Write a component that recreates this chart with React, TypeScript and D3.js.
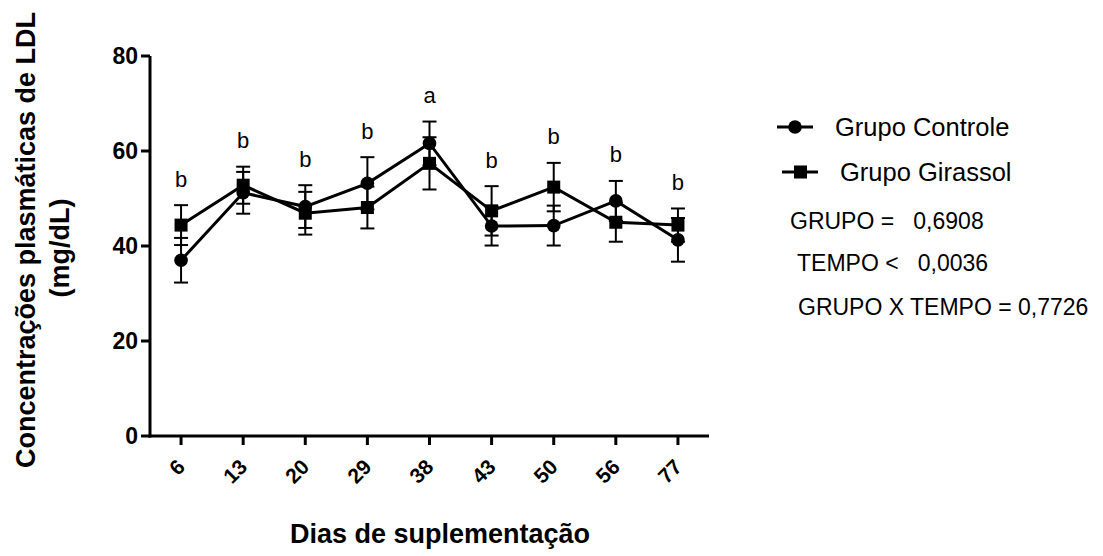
import React from 'react';
import * as d3 from 'd3';

// Dias de suplementação
const days = ['6', '13', '20', '29', '38', '43', '50', '56', '77'];

// Grupo Controle (circle) mean and SEM
const controleMean = [37.0, 51.2, 48.3, 53.2, 61.6, 44.2, 44.3, 49.5, 41.3];
const controleSem = [4.7, 4.4, 4.5, 5.5, 4.6, 4.1, 4.2, 4.2, 4.6];

// Grupo Girassol (square) mean and SEM
const girassolMean = [44.4, 52.8, 46.9, 48.1, 57.4, 47.4, 52.4, 45.0, 44.4];
const girassolSem = [4.2, 3.9, 4.5, 4.4, 5.5, 5.2, 5.1, 4.1, 3.5];

// significance letters over each day
const letters = ['b', 'b', 'b', 'b', 'a', 'b', 'b', 'b', 'b'];

const yTicks = [0, 20, 40, 60, 80];

const statLines = ['GRUPO =   0,6908', 'TEMPO <   0,0036', 'GRUPO X TEMPO = 0,7726'];
const statX = [790, 797, 798];
const statY = [221, 263, 307];

const W = 1103;
const H = 556;
const FONT = '"Liberation Sans", Arial, sans-serif';

const App = () => {
  const x = d3.scalePoint<string>().domain(days).range([150, 709]).padding(0.5);
  const y = d3.scaleLinear().domain([0, 80]).range([436, 56]);

  const line = d3
    .line<number>()
    .x((_, i) => x(days[i]) as number)
    .y((d) => y(d));

  const errBars = (mean: number[], sem: number[], key: string) =>
    mean.map((m, i) => {
      const cx = x(days[i]) as number;
      const top = y(m + sem[i]);
      const bot = y(m - sem[i]);
      return (
        <g key={key + i} stroke="#000" strokeWidth={2}>
          <line x1={cx} x2={cx} y1={top} y2={bot} />
          <line x1={cx - 7} x2={cx + 7} y1={top} y2={top} />
          <line x1={cx - 7} x2={cx + 7} y1={bot} y2={bot} />
        </g>
      );
    });

  return (
    <svg
      width={W}
      height={H}
      style={{ position: 'absolute', left: 0, top: 0, background: '#fff' }}
      fontFamily={FONT}
    >
      {/* y axis */}
      <line x1={150} x2={150} y1={y(80)} y2={y(0) + 1.5} stroke="#000" strokeWidth={3} />
      {yTicks.map((t) => (
        <g key={t}>
          <line x1={141} x2={150} y1={y(t)} y2={y(t)} stroke="#000" strokeWidth={3} />
          <text
            x={138}
            y={y(t)}
            textAnchor="end"
            dominantBaseline="central"
            fontSize={23}
            fontWeight="bold"
          >
            {t}
          </text>
        </g>
      ))}

      {/* x axis */}
      <line x1={148.5} x2={709} y1={y(0)} y2={y(0)} stroke="#000" strokeWidth={3} />
      {days.map((d) => {
        const cx = x(d) as number;
        return (
          <g key={d}>
            <line x1={cx} x2={cx} y1={y(0)} y2={y(0) + 9} stroke="#000" strokeWidth={3} />
            <text
              transform={`translate(${cx},${y(0) + 27}) rotate(-45)`}
              textAnchor="end"
              dominantBaseline="central"
              fontSize={21}
              fontWeight="bold"
            >
              {d}
            </text>
          </g>
        );
      })}

      {/* error bars */}
      {errBars(controleMean, controleSem, 'c')}
      {errBars(girassolMean, girassolSem, 'g')}

      {/* lines */}
      <path d={line(controleMean) ?? ''} fill="none" stroke="#000" strokeWidth={3} />
      <path d={line(girassolMean) ?? ''} fill="none" stroke="#000" strokeWidth={3} />

      {/* markers */}
      {controleMean.map((m, i) => (
        <circle key={'cm' + i} cx={x(days[i]) as number} cy={y(m)} r={6.8} fill="#000" />
      ))}
      {girassolMean.map((m, i) => (
        <rect
          key={'gm' + i}
          x={(x(days[i]) as number) - 6.5}
          y={y(m) - 6.5}
          width={13}
          height={13}
          fill="#000"
        />
      ))}

      {/* significance letters */}
      {letters.map((l, i) => {
        const top = Math.max(controleMean[i] + controleSem[i], girassolMean[i] + girassolSem[i]);
        return (
          <text
            key={'l' + i}
            x={x(days[i]) as number}
            y={y(top + 5.5)}
            textAnchor="middle"
            dominantBaseline="central"
            fontSize={22}
          >
            {l}
          </text>
        );
      })}

      {/* axis titles */}
      <text transform="translate(35,240) rotate(-90)" textAnchor="middle" fontSize={27} fontWeight="bold">
        Concentrações plasmáticas de LDL
      </text>
      <text transform="translate(69,248) rotate(-90)" textAnchor="middle" fontSize={27} fontWeight="bold">
        (mg/dL)
      </text>
      <text x={440} y={543} textAnchor="middle" fontSize={27} fontWeight="bold">
        Dias de suplementação
      </text>

      {/* legend */}
      <g>
        <line x1={777} x2={813} y1={127} y2={127} stroke="#000" strokeWidth={3} />
        <circle cx={795} cy={127} r={6.8} fill="#000" />
        <text x={835} y={127} dominantBaseline="central" fontSize={25.5}>
          Grupo Controle
        </text>
        <line x1={782} x2={818} y1={172} y2={172} stroke="#000" strokeWidth={3} />
        <rect x={794} y={165.5} width={13} height={13} fill="#000" />
        <text x={840} y={172} dominantBaseline="central" fontSize={25.5}>
          Grupo Girassol
        </text>
      </g>

      {/* statistics */}
      {statLines.map((s, i) => (
        <text
          key={'s' + i}
          x={statX[i]}
          y={statY[i]}
          dominantBaseline="central"
          fontSize={23}
          style={{ whiteSpace: 'pre' }}
        >
          {s}
        </text>
      ))}
    </svg>
  );
};

export default App;
